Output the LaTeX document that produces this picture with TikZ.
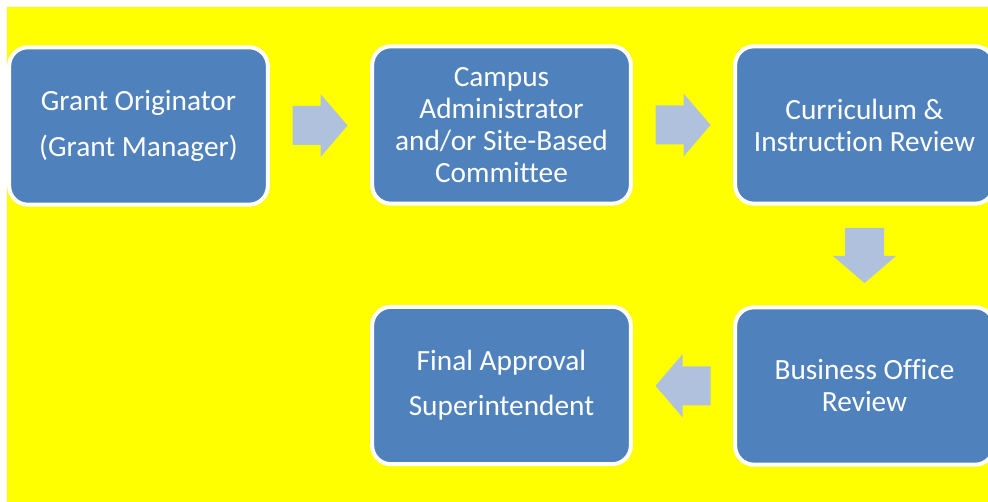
\documentclass[tikz,border=0pt]{standalone}
\usepackage{fontspec}
\setmainfont{Carlito}[Ligatures=NoCommon]
\usepackage{xcolor}
\usepackage{tikz}
\usetikzlibrary{calc}
\usetikzlibrary{positioning}

\definecolor{stepblue}{HTML}{4F81BD}
\definecolor{arrowblue}{HTML}{B0C1DD}
\definecolor{sheetyellow}{HTML}{FFFF00}

\tikzset{
	stagebox/.style={draw=white,line width=3pt,fill=stepblue,rounded corners=14pt,
		minimum width=194pt,minimum height=118pt,inner sep=0pt,align=center,
		text=white,font=\fontsize{22}{24}\selectfont},
	flowarrow/.pic={
		\fill[arrowblue] (-27.5,-19.5) -- (0.5,-19.5) -- (0.5,-31.5) -- (27.5,0)
			-- (0.5,31.5) -- (0.5,19.5) -- (-27.5,19.5) -- cycle;
	}
}

\begin{document}
\begin{tikzpicture}[x=0.75pt,y=-0.75pt]
	\useasboundingbox (0,0) rectangle (988,502);
	\clip (0,0) rectangle (988,502);
	\fill[sheetyellow] (7,7) rectangle (988,502);
	% stages
	\node[stagebox] (orig) at (138.5,126) {Grant Originator\\[11pt](Grant Manager)};
	\node[stagebox] (campus) at (501.5,125) {Campus\\Administrator\\and/or Site-Based\\Committee};
	\node[stagebox] (curric) at (864.5,125) {Curriculum \&\\Instruction Review};
	\node[stagebox] (business) at (864.5,386) {Business Office\\Review};
	\node[stagebox] (final) at (501.5,385.5) {Final Approval\\[10pt]Superintendent};
	% block arrows
	\pic at ($(orig.east)!0.5!(campus.west)$) {flowarrow};
	\pic at ($(campus.east)!0.5!(curric.west)$) {flowarrow};
	\pic[rotate=-90] at ($(curric.south)!0.5!(business.north)$) {flowarrow};
	\pic[rotate=180] at ($(business.west)!0.5!(final.east)$) {flowarrow};
\end{tikzpicture}
\end{document}
